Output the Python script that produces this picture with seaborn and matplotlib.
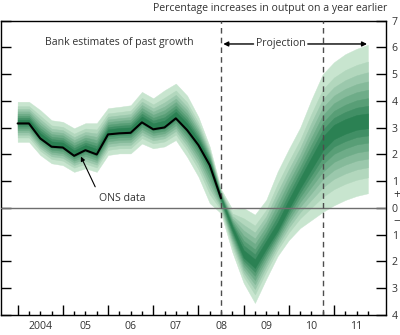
import numpy as np
import pandas as pd
import matplotlib
matplotlib.use("Agg")
import matplotlib.pyplot as plt
import matplotlib.transforms as mtransforms
from matplotlib.colors import to_rgb
import seaborn as sns

# ---------------- data ----------------
quarters = [f"{y}Q{q}" for y in range(2004, 2012) for q in range(1, 5)]  # 2004Q1..2011Q4

# ONS data (2004Q1 .. 2008Q3)
ons_growth = [3.16, 3.16, 2.60, 2.29, 2.26, 1.95, 2.16, 2.00, 2.75, 2.79,
              2.81, 3.20, 2.94, 3.01, 3.35, 2.91, 2.35, 1.60, 0.36]

# fan chart: outer (90%) bounds and central (mode) path, 2004Q1 .. 2011Q4
fan_upper = [3.97, 3.97, 3.66, 3.28, 3.22, 2.98, 3.17, 3.17, 3.73, 3.78,
             3.84, 4.34, 4.10, 4.40, 4.65, 4.20, 3.40, 2.29, 0.70,
             -0.05, 0.00, -0.25, 0.30, 1.35, 2.20, 3.00, 4.05, 5.00, 5.45, 5.75, 5.95, 6.10]
fan_mode = [3.22, 3.22, 2.70, 2.40, 2.36, 2.06, 2.26, 2.10, 2.85, 2.90,
            2.92, 3.32, 3.06, 3.14, 3.48, 3.04, 2.45, 1.68, 0.38,
            -0.75, -1.75, -2.10, -1.40, -0.75, 0.10, 0.90, 1.65, 2.40, 2.85, 3.05, 3.20, 3.25]
fan_lower = [2.47, 2.47, 1.98, 1.67, 1.60, 1.35, 1.48, 1.35, 1.98, 2.04,
             2.04, 2.41, 2.23, 2.30, 2.54, 1.91, 1.17, 0.18, -0.20,
             -1.65, -2.80, -3.55, -2.65, -1.80, -1.20, -0.75, -0.45, -0.15, 0.10, 0.30, 0.45, 0.55]

years = list(range(2004, 2012))
year_labels = ["2004", "05", "06", "07", "08", "09", "10", "11"]
y_ticks = list(range(7, -5, -1))
y_labels = ["7", "6", "5", "4", "3", "2", "1", "0", "1", "2", "3", "4"]
projection_start = "2008Q3"
two_year_point = "2010Q4"

# ---------------- helpers ----------------
def q2x(q):
    y, qq = q.split("Q")
    return int(y) + (int(qq) - 1) / 4.0

df = pd.DataFrame({"quarter": quarters,
                   "upper": fan_upper, "mode": fan_mode, "lower": fan_lower})
df["x"] = df["quarter"].map(q2x)
ons = pd.DataFrame({"quarter": quarters[:len(ons_growth)], "growth": ons_growth})
ons["x"] = ons["quarter"].map(q2x)

# ---------------- style ----------------
sns.set_style("white")
plt.rcParams["font.family"] = ["Open Sans", "DejaVu Sans"]
text_col = "#333333"
fs = 7.6

fig = plt.figure(figsize=(4.0, 3.35), dpi=100)
ax = fig.add_axes([0.0025, 0.0597, 0.9625, 0.8785])

# fan shades, light (outer) to dark (centre)
light, dark = np.array(to_rgb("#c8e5cf")), np.array(to_rgb("#2b8153"))
fracs = [1.0, 0.78, 0.64, 0.52, 0.41, 0.30, 0.20, 0.10]
n = len(fracs)
shades = [tuple(light + (dark - light) * (k / (n - 1))) for k in range(n)]
up = df["upper"].to_numpy(); md = df["mode"].to_numpy(); lo = df["lower"].to_numpy()
for f, c in zip(fracs, shades):
    ax.fill_between(df["x"], md - f * (md - lo), md + f * (up - md),
                    color=c, lw=0.3, edgecolor=c, zorder=1)

ax.axhline(0, color="#6e6e6e", lw=1.0, zorder=3)
for q in (projection_start, two_year_point):
    ax.axvline(q2x(q), color="#4d4d4d", lw=1.0, ls=(0, (4, 3)), zorder=3)

sns.lineplot(data=ons, x="x", y="growth", color="black", lw=1.5, ax=ax, zorder=4)

ax.set_xlim(2003.632, 2012.15)
ax.set_ylim(-4, 7)
ax.set_xlabel(""); ax.set_ylabel("")

# x ticks
ax.set_xticks(years)
ax.set_xticklabels([])
ax.set_xticks([y + k / 4 for y in years for k in (1, 2, 3)], minor=True)
ax.tick_params(axis="x", which="major", direction="in", length=7.5, width=1, color="black",
               bottom=True, top=False)
ax.tick_params(axis="x", which="minor", direction="in", length=3.2, width=1, color="black",
               bottom=True, top=False)
trans_x = mtransforms.blended_transform_factory(ax.transData, ax.transAxes)
for y, lab in zip(years, year_labels):
    ax.text(y + 0.5, -0.038, lab, transform=trans_x, ha="center", va="center",
            fontsize=fs, color=text_col)

# y ticks (right labels, inward ticks both sides)
ax.set_yticks(y_ticks)
ax.set_yticklabels(y_labels)
ax.tick_params(axis="y", which="major", direction="in", length=7.5, width=1, color="black",
               left=True, right=True, labelleft=False, labelright=True,
               labelsize=fs, labelcolor=text_col, pad=4)
trans_y = mtransforms.blended_transform_factory(ax.transAxes, ax.transData)
ax.text(1.0 + 7 / 385, 0.5, "+", transform=trans_y, ha="left", va="center",
        fontsize=8.5, color=text_col)
ax.text(1.0 + 7 / 385, -0.5, "\u2212", transform=trans_y, ha="left", va="center",
        fontsize=8.5, color=text_col)

for s in ax.spines.values():
    s.set_visible(True)
    s.set_color("black")
    s.set_linewidth(1.0)

# annotations
ax.text(2006.24, 6.17, "Bank estimates of past growth", ha="center", va="center",
        fontsize=fs, color=text_col)
ax.text(2009.83, 6.13, "Projection", ha="center", va="center", fontsize=fs, color=text_col)
ax.annotate("", xy=(2008.55, 6.13), xytext=(2009.22, 6.13),
            arrowprops=dict(arrowstyle="-|>", color="black", lw=1.0,
                            mutation_scale=7, shrinkA=0, shrinkB=0))
ax.annotate("", xy=(2011.73, 6.13), xytext=(2010.42, 6.13),
            arrowprops=dict(arrowstyle="-|>", color="black", lw=1.0,
                            mutation_scale=7, shrinkA=0, shrinkB=0))
ax.annotate("ONS data", xy=(2005.40, 1.92), xytext=(2005.80, 0.37),
            ha="left", va="center", fontsize=fs, color=text_col,
            arrowprops=dict(arrowstyle="-|>", color="black", lw=0.8,
                            mutation_scale=6, shrinkA=2, shrinkB=0,
                            relpos=(0.0, 0.8)))

fig.text(0.9675, 0.976, "Percentage increases in output on a year earlier",
         ha="right", va="center", fontsize=fs, color=text_col)

fig.savefig("out.png", dpi=100)
